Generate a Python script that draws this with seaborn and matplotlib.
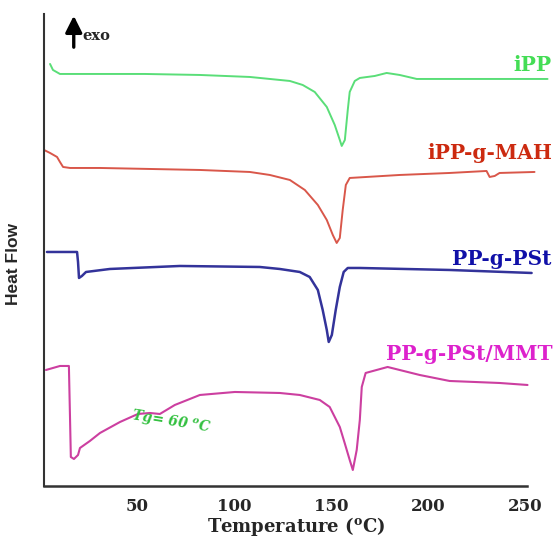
import numpy as np
import pandas as pd
import matplotlib
matplotlib.use("Agg")
import matplotlib.pyplot as plt
import seaborn as sns

# DSC curves (temperature in C, heat flow in arbitrary units, stacked)
ipp_t = [5.3, 6.8, 10.4, 31.0, 54.1, 82.4, 108.1, 118.4, 128.7, 135.3, 141.5, 147.7, 151.8,
         154.4, 155.4, 157.0, 158.5, 159.5, 162.1, 164.7, 172.4, 178.5, 185.2, 194.0, 205.8,
         236.6, 261.3]
ipp_hf = [422, 416, 412, 412, 412, 411, 409, 407, 405, 401, 394, 379, 361,
          346, 340, 346, 376, 394, 405, 408, 410, 413, 411, 407, 407, 407, 407]

mah_t = [2.2, 5.3, 8.9, 10.4, 12.0, 15.6, 31.0, 56.7, 82.4, 108.1, 118.4, 128.7, 136.4, 143.1,
         147.7, 150.8, 152.8, 154.4, 155.9, 157.5, 159.5, 185.2, 210.9, 229.9, 231.5, 234.1,
         236.6, 254.6]
mah_hf = [336, 333, 329, 324, 319, 318, 318, 317, 316, 314, 311, 306, 296, 281,
          266, 251, 243, 248, 276, 301, 308, 311, 313, 315, 309, 310, 313, 314]

pst_t = [3.7, 19.2, 19.7, 20.2, 21.7, 23.8, 36.1, 72.1, 113.2, 123.5, 133.8, 138.9, 143.1,
         145.6, 147.7, 148.7, 150.3, 152.3, 154.4, 156.4, 158.5, 164.7, 210.9, 253.1]
pst_hf = [234, 234, 224, 208, 210, 214, 217, 220, 219, 217, 214, 209, 196,
          176, 156, 144, 151, 176, 199, 214, 218, 218, 216, 213]

mmt_t = [3.2, 10.4, 15.0, 15.6, 16.0, 17.6, 19.7, 20.7, 25.8, 31.0, 41.3, 50.5, 56.7, 61.8,
         69.5, 82.4, 100.4, 123.5, 133.8, 144.1, 149.2, 154.4, 156.9, 159.5, 161.1, 163.1,
         164.7, 165.7, 167.7, 179.0, 195.5, 210.9, 236.6, 251.0]
mmt_hf = [116, 120, 120, 66, 29, 27, 31, 38, 45, 53, 64, 72, 73, 72,
          81, 91, 94, 93, 91, 86, 79, 59, 43, 26, 16, 36,
          66, 99, 113, 119, 111, 105, 103, 101]

names = ["iPP", "iPP-g-MAH", "PP-g-PSt", "PP-g-PSt/MMT"]
line_colors = ["#5ade78", "#d9574a", "#33339a", "#cc3fa0"]
label_colors = ["#44dd55", "#cc2a10", "#1010a8", "#dd22cc"]
label_pos = [(263.5, 421), (263.5, 333), (263.5, 227), (264, 132)]
xticks = [50, 100, 150, 200, 250]

sns.set_style("white")
plt.rcParams["font.family"] = ["DejaVu Serif"]
plt.rcParams["mathtext.fontset"] = "custom"
plt.rcParams["mathtext.rm"] = "DejaVu Serif:bold"
plt.rcParams["mathtext.it"] = "DejaVu Serif:italic:bold"
plt.rcParams["mathtext.bf"] = "DejaVu Serif:bold"

fig = plt.figure(figsize=(5.53, 5.37), dpi=100)
ax = fig.add_axes([0.0796, 0.095, 0.913, 0.879])

curves = [(ipp_t, ipp_hf), (mah_t, mah_hf), (pst_t, pst_hf), (mmt_t, mmt_hf)]
for (t, hf), c, lw in zip(curves, line_colors, [1.4, 1.4, 1.8, 1.5]):
    sns.lineplot(x=t, y=hf, ax=ax, color=c, lw=lw, sort=False, estimator=None)

for txt, (x, y), c in zip(names, label_pos, label_colors):
    ax.text(x, y, txt, color=c, fontsize=14.5, fontweight="bold", ha="right", va="center")

ax.text(67.5, 64, r"Tg= 60 $^{o}$C", color="#33c040", fontsize=10, fontstyle="italic",
        fontweight="bold", rotation=-9, ha="center", va="center")

# exo arrow
ax.annotate("", xy=(17.5, 473), xytext=(17.5, 436), annotation_clip=False,
            arrowprops=dict(arrowstyle="-|>,head_width=0.5,head_length=1.0", color="black", lw=2.4))
ax.text(22, 450, "exo", fontsize=10.5, fontweight="bold", va="center", ha="left")

ax.set_xlim(2.2, 262)
ax.set_ylim(0, 472)
ax.set_xticks(xticks)
ax.set_xticklabels([str(v) for v in xticks], fontsize=12, fontweight="bold")
ax.set_yticks([])
ax.spines["top"].set_visible(False)
ax.spines["right"].set_visible(False)
ax.spines["bottom"].set_bounds(2.2, 250.5)
ax.spines["bottom"].set_linewidth(1.8)
ax.spines["left"].set_linewidth(1.5)
ax.spines["bottom"].set_color("#333333")
ax.spines["left"].set_color("#333333")
ax.tick_params(axis="x", direction="out", length=5, width=1.5, color="#333333", pad=4)

ax.set_xlabel(r"Temperature ($^{\mathbf{o}}$C)", fontsize=13, fontweight="bold")
ax.xaxis.set_label_coords(0.5, -0.062)
ax.set_ylabel("Heat Flow", fontsize=12.5, fontweight="bold", family=["Liberation Sans", "DejaVu Sans"])
ax.yaxis.set_label_coords(-0.045, 0.47)

fig.savefig("out.png", dpi=100)
